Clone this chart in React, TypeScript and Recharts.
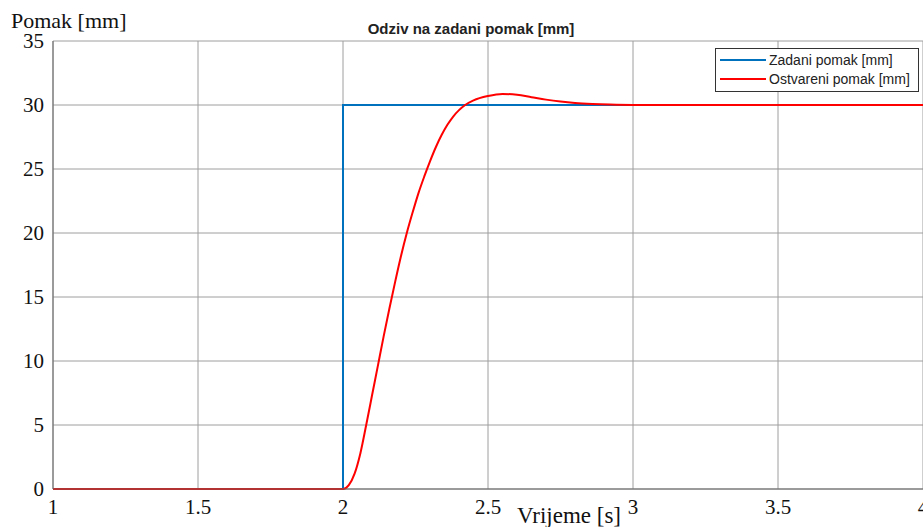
import React from 'react';
import { LineChart, Line, XAxis, YAxis, CartesianGrid } from 'recharts';

const xTicks = [1, 1.5, 2, 2.5, 3, 3.5, 4];
const yTicks = [0, 5, 10, 15, 20, 25, 30, 35];

// zadani (reference) step
const setTimes = [1, 2, 2, 4];
const setValues = [0, 0, 30, 30];

const respTimes = [1, 2, 2.02, 2.04, 2.06, 2.08, 2.1, 2.12, 2.14, 2.16, 2.18, 2.2, 2.22, 2.24, 2.26, 2.28, 2.3, 2.32, 2.34, 2.36, 2.38, 2.4, 2.42, 2.45, 2.5, 2.55, 2.6, 2.65, 2.7, 2.75, 2.8, 2.86, 2.92, 3, 3.2, 4];
const respValues = [0, 0, 0.3, 1.2, 2.8, 5, 7.3, 9.6, 11.9, 14.1, 16.2, 18.2, 20, 21.6, 23.1, 24.4, 25.6, 26.7, 27.65, 28.45, 29.1, 29.6, 29.98, 30.36, 30.7, 30.86, 30.8, 30.61, 30.42, 30.27, 30.16, 30.08, 30.03, 30, 30, 30];

const series = [
  { name: 'Zadani pomak [mm]', color: '#0072BD' },
  { name: 'Ostvareni pomak [mm]', color: '#FF0000' },
];

const setData = setTimes.map((t, i) => ({ t, v: setValues[i] }));
const respData = respTimes.map((t, i) => ({ t, v: respValues[i] }));

const serif = '"Liberation Serif", "Times New Roman", serif';
const sans = '"Liberation Sans", Arial, Helvetica, sans-serif';

const LegendBox = () => (
  <div
    style={{
      position: 'absolute',
      left: 715,
      top: 48,
      width: 198,
      height: 40,
      border: '1px solid #333',
      background: '#fff',
      padding: '2px 0 0 4px',
      fontFamily: sans,
      fontSize: 14,
      color: '#222',
    }}
  >
    {series.map((s) => (
      <div key={s.name} style={{ display: 'flex', alignItems: 'center', height: 18.5, whiteSpace: 'nowrap' }}>
        <span style={{ display: 'inline-block', width: 46, height: 2, background: s.color, marginRight: 3 }} />
        <span>{s.name}</span>
      </div>
    ))}
  </div>
);

export default function App() {
  return (
    <div style={{ position: 'absolute', left: 0, top: 0, width: 923, height: 527, background: '#fff', overflow: 'hidden' }}>
      <LineChart width={923} height={527} margin={{ top: 41, right: 0, bottom: 8, left: 0 }}>
        <CartesianGrid stroke="#9e9e9e" strokeWidth={1} />
        <XAxis
          dataKey="t"
          type="number"
          domain={[1, 4]}
          ticks={xTicks}
          height={30}
          axisLine={{ stroke: '#666' }}
          tickLine={false}
          tickMargin={4}
          tick={{ fill: '#111', fontSize: 21, fontFamily: serif }}
          interval={0}
        />
        <YAxis
          type="number"
          domain={[0, 35]}
          ticks={yTicks}
          width={53}
          axisLine={{ stroke: '#666' }}
          tickLine={false}
          tickMargin={3}
          tick={{ fill: '#111', fontSize: 21, fontFamily: serif }}
          interval={0}
        />
        <Line
          data={setData}
          dataKey="v"
          name={series[0].name}
          type="linear"
          stroke={series[0].color}
          strokeWidth={2}
          dot={false}
          isAnimationActive={false}
        />
        <Line
          data={respData}
          dataKey="v"
          name={series[1].name}
          type="monotone"
          stroke={series[1].color}
          strokeWidth={2}
          dot={false}
          isAnimationActive={false}
        />
        <text x={471} y={34} textAnchor="middle" fontFamily={sans} fontWeight="bold" fontSize={15} fill="#222">
          Odziv na zadani pomak [mm]
        </text>
        <text x={11} y={28} fontFamily={serif} fontSize={22} fill="#111">
          Pomak [mm]
        </text>
        <text x={569} y={523} textAnchor="middle" fontFamily={serif} fontSize={23} fill="#111">
          Vrijeme [s]
        </text>
      </LineChart>
      <LegendBox />
    </div>
  );
}
